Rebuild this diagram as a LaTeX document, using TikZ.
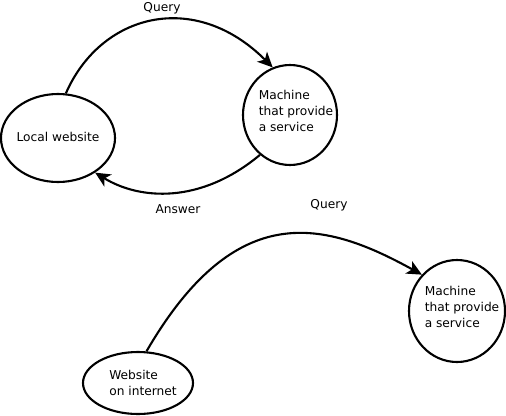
\documentclass[tikz,border=0pt]{standalone}
\usepackage{fontspec}
\setmainfont{DejaVu Sans}
\usetikzlibrary{shapes.geometric,arrows.meta}
\begin{document}
\begin{tikzpicture}[x=1pt,y=-1pt,
  bubble/.style={draw=black,line width=2.1pt,ellipse,inner sep=0pt},
  txt/.style={font=\fontsize{12.2}{16}\selectfont,inner sep=0pt,align=left},
  link/.style={line width=2.1pt,arrows={-Stealth[length=15pt,width=14pt,inset=4pt]}}]
\useasboundingbox (0,0) rectangle (506,415);
% top part
\node[bubble,minimum width=114pt,minimum height=88pt] (lw) at (58,138) {};
\node[txt] (lwt) at (58,137) {Local website};
\node[bubble,minimum width=94pt,minimum height=100pt] (m1) at (290,115) {};
\node[txt] (m1t) at (296,111) {Machine\\that provide\\a service};
\node[txt] (q1) at (162,8) {Query};
\node[txt] (ans) at (178,209) {Answer};
\draw[link] (lw.80) .. controls +(35,-80) and +(-78,-78) .. (m1.110);
\draw[link] (m1.-127) .. controls +(-60,50) and +(44,27) .. (lw.-43);
% bottom part
\node[txt] (q2) at (329,205) {Query};
\node[bubble,minimum width=110pt,minimum height=62pt] (web) at (138,383) {};
\node[txt] (webt) at (143,383) {Website\\on internet};
\node[bubble,minimum width=96pt,minimum height=102pt] (m2) at (457,311) {};
\node[txt] (m2t) at (462,307) {Machine\\that provide\\a service};
\draw[link] (web.75) .. controls +(90,-155) and +(-96,-53) .. (m2.134);
\end{tikzpicture}
\end{document}
